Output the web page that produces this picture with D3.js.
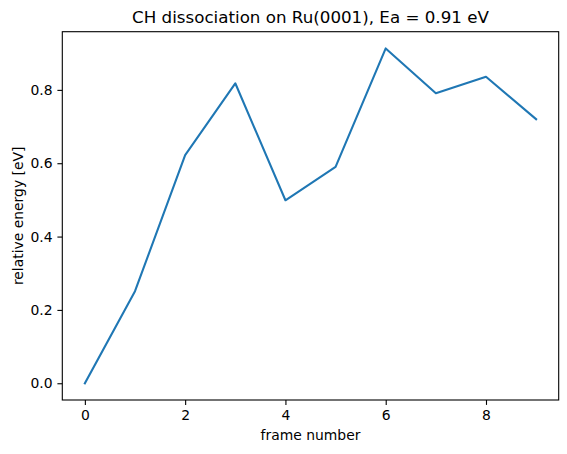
<!DOCTYPE html>
<html>
<head>
<meta charset="utf-8">
<script src="https://cdn.jsdelivr.net/npm/d3@7"></script>
<style>
  body { margin: 0; background: #fff; }
  svg text { font-family: "DejaVu Sans", sans-serif; fill: #000; }
</style>
</head>
<body>
<svg id="chart" width="567" height="454"></svg>
<script>
'use strict';

// frame index and relative energy (eV)
var frames = [0, 1, 2, 3, 4, 5, 6, 7, 8, 9];
var energies = [0.0, 0.251, 0.622, 0.818, 0.499, 0.590, 0.913, 0.791, 0.836, 0.720];
var xTicks = [0, 2, 4, 6, 8];
var yTicks = [0.0, 0.2, 0.4, 0.6, 0.8];

var W = 567, H = 454;
var margin = { left: 62.3, right: W - 558.7, top: 31.7, bottom: H - 400 };
var pw = W - margin.left - margin.right;
var ph = H - margin.top - margin.bottom;

var svg = d3.select('#chart');
var g = svg.append('g').attr('transform', 'translate(' + margin.left + ',' + margin.top + ')');

// matplotlib style 5% margins
var xmin = d3.min(frames), xmax = d3.max(frames);
var ymin = d3.min(energies), ymax = d3.max(energies);
var xpad = (xmax - xmin) * 0.05, ypad = (ymax - ymin) * 0.05;

var x = d3.scaleLinear().domain([xmin - xpad, xmax + xpad]).range([0, pw]);
var y = d3.scaleLinear().domain([ymin - ypad, ymax + ypad]).range([ph, 0]);

var xAxis = g.append('g')
    .attr('transform', 'translate(0,' + ph + ')')
    .call(d3.axisBottom(x).tickValues(xTicks).tickFormat(d3.format('d')).tickSizeInner(4.9).tickSizeOuter(0).tickPadding(4.9));
var yAxis = g.append('g')
    .call(d3.axisLeft(y).tickValues(yTicks).tickFormat(d3.format('.1f')).tickSizeInner(4.9).tickSizeOuter(0).tickPadding(4.9));

[xAxis, yAxis].forEach(function(a) {
    a.select('.domain').remove();
    a.selectAll('.tick line').attr('stroke', '#000').attr('stroke-width', 1.1);
    a.selectAll('.tick text').style('font-size', '13.9px').style('font-family', '"DejaVu Sans", sans-serif');
});

var line = d3.line()
    .x(function(d, i) { return x(frames[i]); })
    .y(function(d) { return y(d); });

g.append('path')
    .datum(energies)
    .attr('d', line)
    .attr('fill', 'none')
    .attr('stroke', '#1f77b4')
    .attr('stroke-width', 2.08)
    .attr('stroke-linejoin', 'round')
    .attr('stroke-linecap', 'square');

// frame (spines)
g.append('rect')
    .attr('width', pw)
    .attr('height', ph)
    .attr('fill', 'none')
    .attr('stroke', '#000')
    .attr('stroke-width', 1.1);

svg.append('text')
    .attr('x', margin.left + pw / 2)
    .attr('y', 23.4)
    .attr('text-anchor', 'middle')
    .style('font-size', '16.7px')
    .text('CH dissociation on Ru(0001), Ea = 0.91 eV');

svg.append('text')
    .attr('x', margin.left + pw / 2)
    .attr('y', 440)
    .attr('text-anchor', 'middle')
    .style('font-size', '13.9px')
    .text('frame number');

svg.append('text')
    .attr('transform', 'translate(22.5,' + (margin.top + ph / 2) + ') rotate(-90)')
    .attr('text-anchor', 'middle')
    .style('font-size', '13.9px')
    .text('relative energy [eV]');
</script>
</body>
</html>
